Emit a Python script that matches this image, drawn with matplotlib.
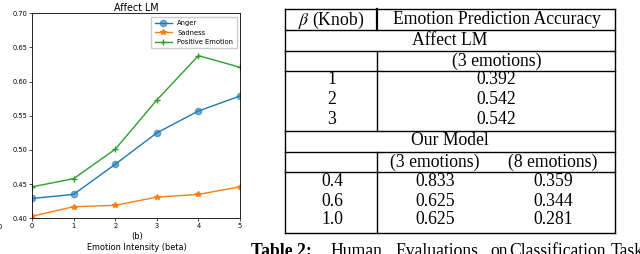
import matplotlib
matplotlib.use("Agg")
from matplotlib import pyplot as plt
from matplotlib.lines import Line2D
from matplotlib.patches import Rectangle

W, H = 640, 254

# chart data
beta = [0, 1, 2, 3, 4, 5]
anger = [0.429, 0.435, 0.479, 0.525, 0.557, 0.579]
sadness = [0.403, 0.417, 0.419, 0.431, 0.435, 0.446]
positive = [0.446, 0.458, 0.501, 0.573, 0.638, 0.621]

# table data
affect_knob = ["1", "2", "3"]
affect_acc = ["0.392", "0.542", "0.542"]
our_knob = ["0.4", "0.6", "1.0"]
our_acc3 = ["0.833", "0.625", "0.625"]
our_acc8 = ["0.359", "0.344", "0.281"]

plt.rcParams['mathtext.fontset'] = 'stix'

fig = plt.figure(figsize=(W / 100, H / 100), dpi=100)

def fx(x):
    return x / W

def fy(y):
    return 1 - y / H

ax = fig.add_axes([fx(32), fy(218.3), fx(240) - fx(32), fy(13.3) - fy(218.3)])
ax.plot(beta, anger, color='#1f77b4', lw=1.0, marker='o', ms=4.5,
        markerfacecolor=(0.12, 0.47, 0.71, 0.6), markeredgecolor=(0.12, 0.47, 0.71, 0.6), label='Anger')
ax.plot(beta, sadness, color='#ff7f0e', lw=1.0, marker='*', ms=4, label='Sadness')
ax.plot(beta, positive, color='#2ca02c', lw=1.0, marker='+', ms=4, label='Positive Emotion')
ax.set_xlim(0, 5)
ax.set_ylim(0.40, 0.70)
ax.set_xticks(beta)
ax.set_yticks([0.40, 0.45, 0.50, 0.55, 0.60, 0.65, 0.70])
ax.set_yticklabels(['0.40', '0.45', '0.50', '0.55', '0.60', '0.65', '0.70'])
ax.tick_params(labelsize=4.8, length=2, width=0.5, pad=1.5)
for s in ax.spines.values():
    s.set_linewidth(0.6)
ax.set_title('Affect LM', fontsize=6.9, pad=2)
ax.legend(loc='upper right', fontsize=4.9, frameon=True, fancybox=False,
          edgecolor='#cccccc', framealpha=1, borderpad=0.5, handlelength=2.5,
          borderaxespad=0.5, labelspacing=0.5)

# sub-caption and axis label
fig.text(fx(137), fy(237), '(b)', fontsize=5.9, ha='center', va='center')
fig.text(fx(137), fy(247), 'Emotion Intensity (beta)', fontsize=5.9, ha='center', va='center')

# crop the chart image at its right edge
fig.add_artist(Rectangle((fx(242), fy(240)), fx(285) - fx(242), fy(0) - fy(240),
                         transform=fig.transFigure, facecolor='white', edgecolor='none', zorder=10))
# cut-off tick label from a neighbouring plot
fig.text(fx(0), fy(227), '0', fontsize=4.8, ha='center', va='center')

# table
serif = 'Liberation Serif'
fs = 12.7
L, M, R = 285, 377, 615

def hline(y):
    fig.add_artist(Line2D([fx(L), fx(R)], [fy(y), fy(y)], color='black', lw=1.0,
                          transform=fig.transFigure, zorder=11))

def vline(x, y0, y1, lw=1.0):
    fig.add_artist(Line2D([fx(x), fx(x)], [fy(y0), fy(y1)], color='black', lw=lw,
                          transform=fig.transFigure, zorder=11))

for y in [9, 30, 51, 71, 131, 152, 172, 233]:
    hline(y)
vline(L, 9, 233)
vline(R, 9, 233)
vline(M, 9, 30, lw=1.6)
vline(M, 51, 131)
vline(M, 152, 233)

def cell(x, y, s, **kw):
    fig.text(fx(x), fy(y), s, fontsize=fs, family=serif, ha='center', va='center', zorder=12, **kw)

cell(331, 20, r'$\beta$ (Knob)')
cell(497, 20, 'Emotion Prediction Accuracy')
cell(450, 40.5, 'Affect LM')
cell(497, 61, '(3 emotions)')
for i, y in enumerate([80, 100, 119]):
    cell(332, y, affect_knob[i])
    cell(496, y, affect_acc[i])
cell(450, 140.5, 'Our Model')
cell(435, 162, '(3 emotions)')
cell(553, 162, '(8 emotions)')
for i, y in enumerate([182, 201, 220]):
    cell(332, y, our_knob[i])
    cell(435, y, our_acc3[i])
    cell(553, y, our_acc8[i])

# caption (cut off at the bottom)
cap_y = fy(256)
fig.text(fx(251), cap_y, 'Table 2:', fontsize=fs, family=serif, weight='bold', va='baseline', zorder=12)
for x, w in [(330, 'Human'), (395, 'Evaluations'), (490, 'on'), (509, 'Classification'), (611, 'Tasks')]:
    fig.text(fx(x), cap_y, w, fontsize=fs, family=serif, va='baseline', zorder=12)

fig.savefig('out.png', dpi=100)
